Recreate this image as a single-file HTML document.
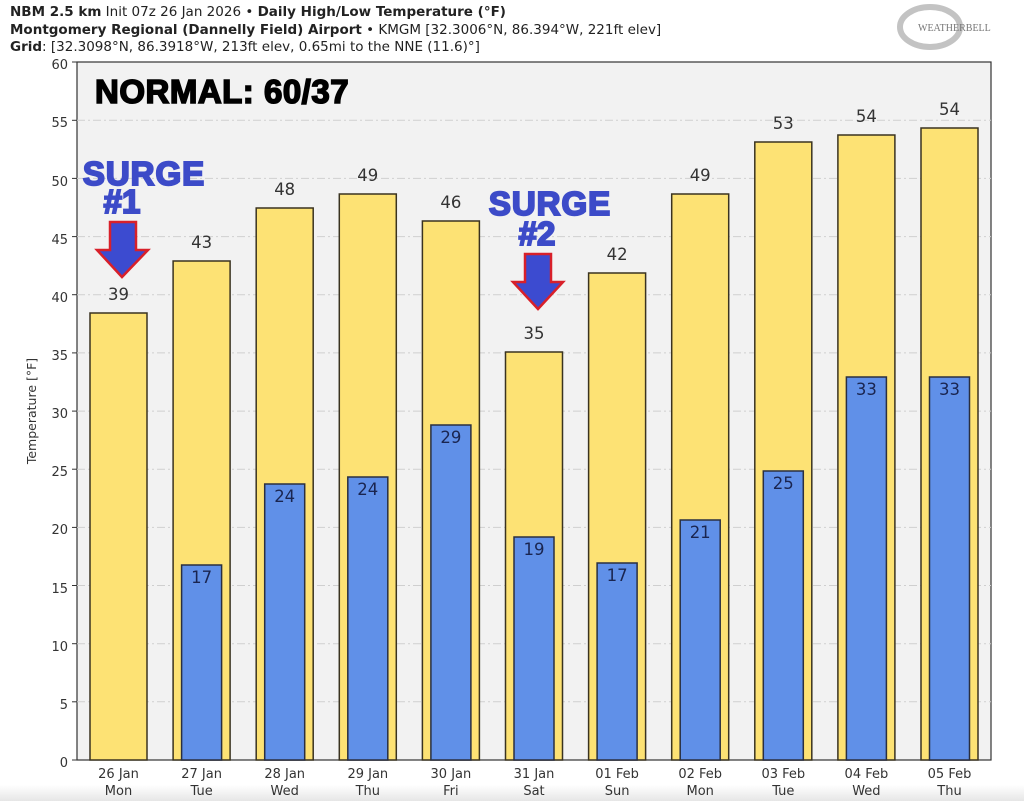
<!DOCTYPE html>
<html><head><meta charset="utf-8"><style>
html,body{margin:0;padding:0;background:#fff;}
svg{display:block;font-family:"DejaVu Sans","Liberation Sans",sans-serif;}
</style></head><body>
<svg width="1024" height="801" viewBox="0 0 1024 801" xmlns="http://www.w3.org/2000/svg">
<defs><linearGradient id="bg" x1="0" y1="0" x2="0" y2="1"><stop offset="0" stop-color="#fff"/><stop offset="1" stop-color="#e6e6e6"/></linearGradient></defs>
<rect width="1024" height="801" fill="#fff"/>
<rect x="0" y="785" width="1024" height="16" fill="url(#bg)"/>
<text x="10" y="16" font-size="13.5" fill="#222"><tspan font-weight="bold">NBM 2.5 km</tspan> Init 07z 26 Jan 2026 • <tspan font-weight="bold">Daily High/Low Temperature (°F)</tspan></text>
<text x="10" y="34" font-size="13.5" fill="#222"><tspan font-weight="bold">Montgomery Regional (Dannelly Field) Airport</tspan> • KMGM [32.3006°N, 86.394°W, 221ft elev]</text>
<text x="10" y="51" font-size="13.5" fill="#222"><tspan font-weight="bold">Grid</tspan>: [32.3098°N, 86.3918°W, 213ft elev, 0.65mi to the NNE (11.6)°]</text>
<ellipse cx="930" cy="27" rx="30" ry="20" fill="none" stroke="#aaa" stroke-width="6" opacity="0.7"/>
<text x="918" y="31" font-size="10" fill="#777" font-family="Liberation Serif,serif">WEATHERBELL</text>
<rect x="77" y="62" width="914" height="698" fill="#f2f2f2" stroke="#333" stroke-width="1.2"/>
<g stroke="#cfcfcf" stroke-width="1" stroke-dasharray="8,3,2,3">
<line x1="77" x2="991" y1="120.3" y2="120.3"/><line x1="77" x2="991" y1="178.4" y2="178.4"/><line x1="77" x2="991" y1="236.6" y2="236.6"/><line x1="77" x2="991" y1="294.7" y2="294.7"/><line x1="77" x2="991" y1="352.9" y2="352.9"/><line x1="77" x2="991" y1="411.1" y2="411.1"/><line x1="77" x2="991" y1="469.2" y2="469.2"/><line x1="77" x2="991" y1="527.4" y2="527.4"/><line x1="77" x2="991" y1="585.5" y2="585.5"/><line x1="77" x2="991" y1="643.7" y2="643.7"/><line x1="77" x2="991" y1="701.8" y2="701.8"/>
</g>
<g fill="#333" font-size="13" text-anchor="end">
<text x="68" y="767">0</text><text x="68" y="709">5</text><text x="68" y="651">10</text><text x="68" y="593">15</text><text x="68" y="534">20</text><text x="68" y="476">25</text><text x="68" y="418">30</text><text x="68" y="360">35</text><text x="68" y="302">40</text><text x="68" y="244">45</text><text x="68" y="186">50</text><text x="68" y="127">55</text><text x="68" y="69">60</text>
</g>
<g stroke="#333"><line x1="72" x2="77" y1="760" y2="760"/><line x1="72" x2="77" y1="701.8" y2="701.8"/><line x1="72" x2="77" y1="643.7" y2="643.7"/><line x1="72" x2="77" y1="585.5" y2="585.5"/><line x1="72" x2="77" y1="527.4" y2="527.4"/><line x1="72" x2="77" y1="469.2" y2="469.2"/><line x1="72" x2="77" y1="411.1" y2="411.1"/><line x1="72" x2="77" y1="352.9" y2="352.9"/><line x1="72" x2="77" y1="294.7" y2="294.7"/><line x1="72" x2="77" y1="236.6" y2="236.6"/><line x1="72" x2="77" y1="178.4" y2="178.4"/><line x1="72" x2="77" y1="120.3" y2="120.3"/><line x1="72" x2="77" y1="62" y2="62"/></g>
<text transform="translate(36,411) rotate(-90)" font-size="12.5" fill="#333" text-anchor="middle">Temperature [°F]</text>
<g fill="#fde274" stroke="#3a3320" stroke-width="1.5">
<rect x="90" y="313" width="57" height="447"/>
<rect x="173.1" y="261" width="57" height="499"/>
<rect x="256.2" y="208" width="57" height="552"/>
<rect x="339.3" y="194" width="57" height="566"/>
<rect x="422.4" y="221" width="57" height="539"/>
<rect x="505.5" y="352" width="57" height="408"/>
<rect x="588.6" y="273" width="57" height="487"/>
<rect x="671.7" y="194" width="57" height="566"/>
<rect x="754.8" y="142" width="57" height="618"/>
<rect x="837.9" y="135" width="57" height="625"/>
<rect x="921" y="128" width="57" height="632"/>
</g>
<g fill="#6090e8" stroke="#2a2f40" stroke-width="1.5">
<rect x="181.6" y="565" width="40" height="195"/>
<rect x="264.7" y="484" width="40" height="276"/>
<rect x="347.8" y="477" width="40" height="283"/>
<rect x="430.9" y="425" width="40" height="335"/>
<rect x="514" y="537" width="40" height="223"/>
<rect x="597.1" y="563" width="40" height="197"/>
<rect x="680.2" y="520" width="40" height="240"/>
<rect x="763.3" y="471" width="40" height="289"/>
<rect x="846.4" y="377" width="40" height="383"/>
<rect x="929.5" y="377" width="40" height="383"/>
</g>
<g fill="#333" font-size="16.5" text-anchor="middle">
<text x="118.5" y="300">39</text><text x="201.6" y="248">43</text><text x="284.7" y="195">48</text><text x="367.8" y="181">49</text><text x="450.9" y="208">46</text><text x="534" y="339">35</text><text x="617.1" y="260">42</text><text x="700.2" y="181">49</text><text x="783.3" y="129">53</text><text x="866.4" y="122">54</text><text x="949.5" y="115">54</text>
</g>
<g fill="#1a2550" font-size="16.5" text-anchor="middle">
<text x="201.6" y="583">17</text><text x="284.7" y="502">24</text><text x="367.8" y="495">24</text><text x="450.9" y="443">29</text><text x="534" y="555">19</text><text x="617.1" y="581">17</text><text x="700.2" y="538">21</text><text x="783.3" y="489">25</text><text x="866.4" y="395">33</text><text x="949.5" y="395">33</text>
</g>
<g fill="#333" font-size="13" text-anchor="middle">
<text x="118.5" y="778">26 Jan</text><text x="118.5" y="795">Mon</text>
<text x="201.6" y="778">27 Jan</text><text x="201.6" y="795">Tue</text>
<text x="284.7" y="778">28 Jan</text><text x="284.7" y="795">Wed</text>
<text x="367.8" y="778">29 Jan</text><text x="367.8" y="795">Thu</text>
<text x="450.9" y="778">30 Jan</text><text x="450.9" y="795">Fri</text>
<text x="534" y="778">31 Jan</text><text x="534" y="795">Sat</text>
<text x="617.1" y="778">01 Feb</text><text x="617.1" y="795">Sun</text>
<text x="700.2" y="778">02 Feb</text><text x="700.2" y="795">Mon</text>
<text x="783.3" y="778">03 Feb</text><text x="783.3" y="795">Tue</text>
<text x="866.4" y="778">04 Feb</text><text x="866.4" y="795">Wed</text>
<text x="949.5" y="778">05 Feb</text><text x="949.5" y="795">Thu</text>
</g>
<text x="95" y="103" font-family="Liberation Sans,sans-serif" font-weight="bold" font-size="33" fill="#000" stroke="#000" stroke-width="1.6" letter-spacing="0.5">NORMAL: 60/37</text>
<g font-family="Liberation Sans,sans-serif" font-weight="bold" fill="#3c4bc8" stroke="#3c4bc8" stroke-width="2" text-anchor="middle">
<text x="144" y="185" font-size="33" letter-spacing="1">SURGE</text><text x="122" y="213" font-size="33">#1</text>
<text x="550" y="215" font-size="33" letter-spacing="1">SURGE</text><text x="537" y="245" font-size="33">#2</text>
</g>
<polygon points="110,222 136,222 136,250 148,250 122,277 97,250 110,250" fill="#3c4bd0" stroke="#d8202a" stroke-width="2.5"/>
<polygon points="525,254 551,254 551,282 563,282 538,309 513,282 525,282" fill="#3c4bd0" stroke="#d8202a" stroke-width="2.5"/>
</svg>
</body></html>
